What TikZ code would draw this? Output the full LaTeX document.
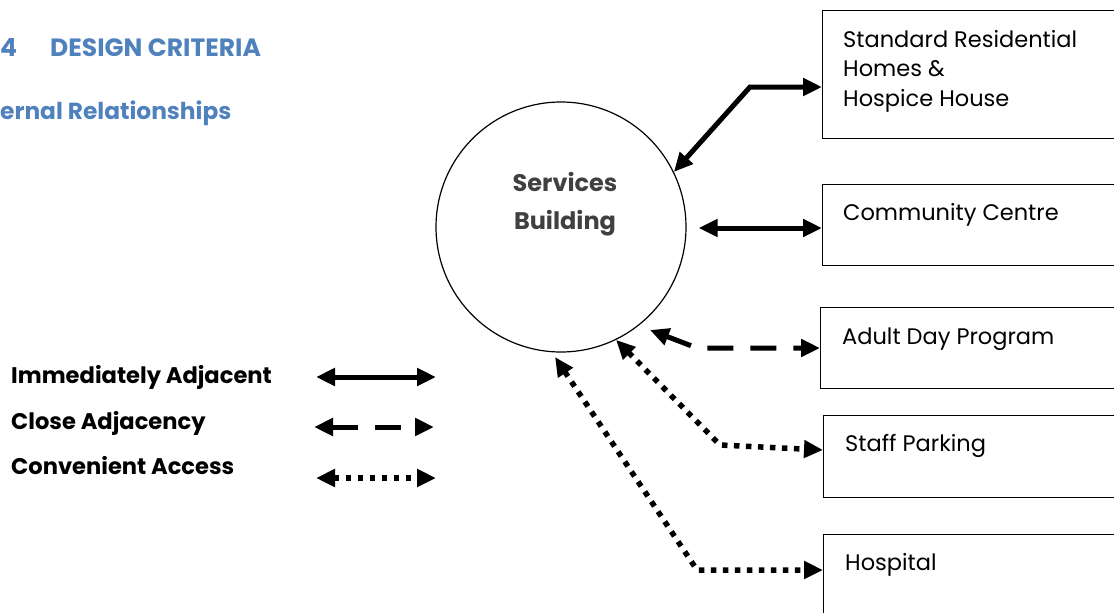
\documentclass[tikz,border=0pt]{standalone}
\usepackage{fontspec}
\setmainfont{Poppins}
\usepackage{xcolor}
\usetikzlibrary{arrows.meta,positioning,calc}
\definecolor{DCBlue}{HTML}{4F81BD}
\definecolor{DCGray}{HTML}{404040}
\definecolor{DCInk}{HTML}{000000}
\tikzset{
  dctip/.tip={Triangle[length=19pt, width=17pt]},
  dcbox/.style={draw=DCInk, line width=1.3pt, rectangle, anchor=north west,
    minimum width=330pt, minimum height=81pt, inner sep=0pt},
  dctext/.style={anchor=base west, align=left, font=\fontsize{22.5}{29.5}\selectfont,
    inner sep=0pt, text=DCInk},
  dchead/.style={anchor=base west, text=DCBlue, font=\bfseries\fontsize{25}{28}\selectfont,
    inner sep=0pt},
  dclegend/.style={anchor=base west, font=\bfseries\fontsize{22.6}{24}\selectfont,
    inner sep=0pt},
  immediate/.style={dctip-dctip, line width=5pt, draw=DCInk},
  close/.style={dctip-dctip, line width=5pt, draw=DCInk,
    dash pattern=on 26pt off 17pt},
  convenient/.style={dctip-dctip, line width=5.5pt, draw=DCInk,
    dash pattern=on 5.5pt off 6.5pt}
}
\begin{document}
\begin{tikzpicture}[x=1pt, y=-1pt]
  \useasboundingbox (0,0) rectangle (1114,613);

  % headings
  \node[dchead] (secnum) at (0,56) {4};
  \node[dchead] (sectitle) at (50,56) {DESIGN CRITERIA};
  \node[dchead, font=\bfseries\fontsize{23.3}{28}\selectfont] (subtitle) at (0,119)
    {ernal Relationships};

  % central building
  \node[circle, draw=DCInk, line width=1.2pt, minimum size=250pt, inner sep=0pt]
    (svc) at (561,227) {};
  \node[anchor=base, text=DCGray, font=\bfseries\fontsize{24}{28}\selectfont,
    inner sep=0pt] (svctext) at (565,191) {Services};
  \node[anchor=base, text=DCGray, font=\bfseries\fontsize{24}{28}\selectfont,
    inner sep=0pt] (svctext2) at (565,229) {Building};

  % related buildings
  \node[dcbox, minimum height=128pt] (homes) at (822,10) {};
  \node[dctext] (homestext) at (843,47) {Standard Residential};
  \node[dctext] (homestext2) at (843,76.5) {Homes \&};
  \node[dctext] (homestext3) at (843,106) {Hospice House};
  \node[dcbox] (comm) at (822,184) {};
  \node[dctext] (commtext) at (843,220) {Community Centre};
  \node[dcbox] (adult) at (820,307) {};
  \node[dctext] (adulttext) at (842,344) {Adult Day Program};
  \node[dcbox, minimum height=82pt] (staff) at (823,415) {};
  \node[dctext] (stafftext) at (845,451) {Staff Parking};
  \node[dcbox] (hosp) at (823,534) {};
  \node[dctext] (hosptext) at (845,570) {Hospital};

  % bends of the connectors
  \coordinate (homesbend) at (750,87);
  \coordinate (adultbend) at (697,348);
  \coordinate (adulttip) at (650,330);
  \coordinate (staffbend) at (720,445);
  \coordinate (hospbend) at (697,570);
  \coordinate (hosptip) at (555,357);

  \draw[immediate] (svc.26) -- (homesbend) -- (homes.west |- homesbend);
  \draw[immediate] ($(svc.east)+(12,1)$) -- (comm.west |- 0,228);
  \draw[close] (adulttip) -- (adultbend) -- (adult.west |- adultbend);
  \draw[convenient] (svc.-64) -- (staffbend) -- (staff.west |- 0,450);
  \draw[convenient] (hosptip) -- (hospbend) -- (hosp.west |- hospbend);

  % legend
  \node[dclegend] (leg1) at (11,383) {Immediately Adjacent};
  \node[dclegend] (leg2) at (11,429) {Close Adjacency};
  \node[dclegend] (leg3) at (11,474) {Convenient Access};
  \coordinate (leg1a) at (316,377);
  \coordinate (leg1b) at (436,377);
  \coordinate (leg2a) at (314,427);
  \coordinate (leg2b) at (434,427);
  \coordinate (leg3a) at (316,478);
  \coordinate (leg3b) at (436,478);
  \draw[immediate] (leg1a) -- (leg1b);
  \draw[close] (leg2a) -- (leg2b);
  \draw[convenient] (leg3a) -- (leg3b);
\end{tikzpicture}
\end{document}
